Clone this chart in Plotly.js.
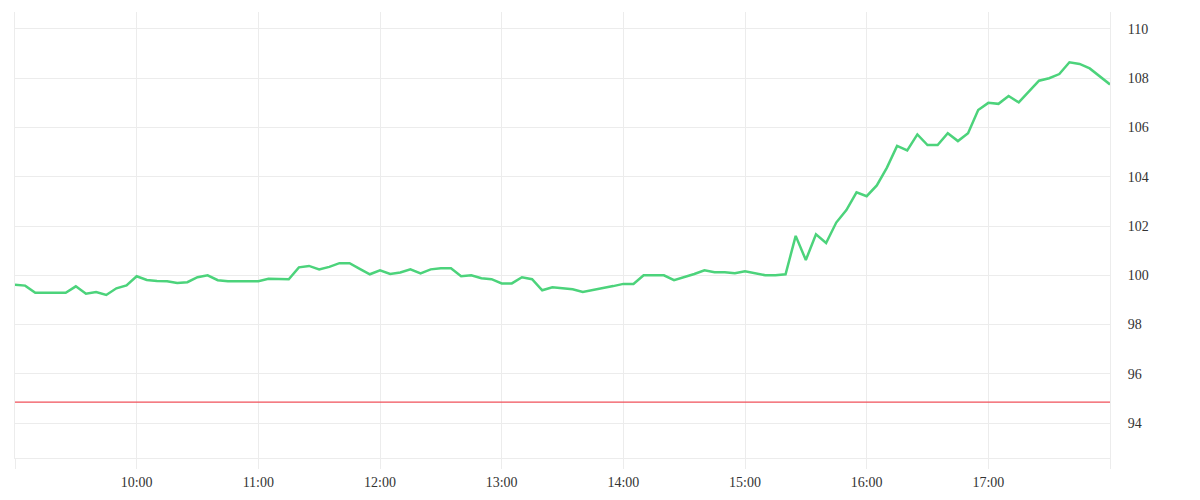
<!DOCTYPE html>
<html>
<head>
<meta charset="utf-8">
<script src="https://cdn.plot.ly/plotly-3.0.1.min.js"></script>
<style>
  body { margin: 0; background: #fff; }
  #myDiv { width: 1200px; height: 500px; }
</style>
</head>
<body>
<div id="myDiv"></div>
<script>
const day = '2024-01-02 ';

const times = [
  '09:00','09:05','09:10','09:15','09:20','09:25','09:30','09:35','09:40','09:45','09:50','09:55',
  '10:00','10:05','10:10','10:15','10:20','10:25','10:30','10:35','10:40','10:45','10:50','10:55',
  '11:00','11:05','11:10','11:15','11:20','11:25','11:30','11:35','11:40','11:45','11:50','11:55',
  '12:00','12:05','12:10','12:15','12:20','12:25','12:30','12:35','12:40','12:45','12:50','12:55',
  '13:00','13:05','13:10','13:15','13:20','13:25','13:30','13:35','13:40','13:45','13:50','13:55',
  '14:00','14:05','14:10','14:15','14:20','14:25','14:30','14:35','14:40','14:45','14:50','14:55',
  '15:00','15:05','15:10','15:15','15:20','15:25','15:30','15:35','15:40','15:45','15:50','15:55',
  '16:00','16:05','16:10','16:15','16:20','16:25','16:30','16:35','16:40','16:45','16:50','16:55',
  '17:00','17:05','17:10','17:15','17:20','17:25','17:30','17:35','17:40','17:45','17:50','17:55',
  '18:00'
];

const prices = [
  99.62, 99.58, 99.29, 99.29, 99.29, 99.29, 99.55, 99.25, 99.32, 99.20, 99.47, 99.59,
  99.96, 99.81, 99.77, 99.76, 99.69, 99.72, 99.92, 100.00, 99.80, 99.76, 99.76, 99.76,
  99.76, 99.86, 99.84, 99.84, 100.32, 100.38, 100.24, 100.34, 100.49, 100.49, 100.26, 100.04,
  100.20, 100.05, 100.11, 100.24, 100.08, 100.24, 100.28, 100.28, 99.96, 100.00, 99.88, 99.84,
  99.67, 99.67, 99.92, 99.84, 99.39, 99.51, 99.47, 99.43, 99.32, 99.39, 99.47, 99.56,
  99.65, 99.65, 100.00, 100.00, 100.00, 99.80, 99.92, 100.05, 100.20, 100.12, 100.12, 100.08,
  100.16, 100.08, 100.00, 100.00, 100.04, 101.60, 100.62, 101.66, 101.31, 102.14, 102.65, 103.37,
  103.21, 103.65, 104.37, 105.25, 105.07, 105.72, 105.29, 105.29, 105.77, 105.45, 105.77, 106.71,
  107.00, 106.96, 107.28, 107.02, 107.46, 107.90, 108.00, 108.17, 108.65, 108.58, 108.40, 108.09,
  107.75
];

const limitLevel = 94.85;

const hourTicks = ['09:00','10:00','11:00','12:00','13:00','14:00','15:00','16:00','17:00','18:00'];
const hourLabels = ['','10:00','11:00','12:00','13:00','14:00','15:00','16:00','17:00',''];

const yTicks = [94, 96, 98, 100, 102, 104, 106, 108, 110];

const gridColor = '#ececec';
const textFont = {family: 'Liberation Serif, serif', size: 14, color: '#333333'};

const xdata = times.map(t => day + t);

const priceTrace = {
  x: xdata,
  y: prices,
  type: 'scatter',
  mode: 'lines',
  line: {color: '#4cd37b', width: 2.5},
  hoverinfo: 'x+y'
};

const limitTrace = {
  x: [xdata[0], xdata[xdata.length - 1]],
  y: [limitLevel, limitLevel],
  type: 'scatter',
  mode: 'lines',
  line: {color: '#f0505a', width: 1.2},
  hoverinfo: 'skip'
};

const layout = {
  width: 1200,
  height: 500,
  margin: {l: 15, r: 90, t: 12, b: 42},
  paper_bgcolor: '#ffffff',
  plot_bgcolor: '#ffffff',
  showlegend: false,
  font: textFont,
  xaxis: {
    type: 'date',
    range: [day + '09:00', day + '18:00'],
    tickmode: 'array',
    tickvals: hourTicks.map(t => day + t),
    ticktext: hourLabels,
    showgrid: true,
    gridcolor: gridColor,
    gridwidth: 1,
    zeroline: false,
    showline: true,
    linecolor: gridColor,
    linewidth: 1,
    ticks: 'outside',
    ticklen: 10,
    tickcolor: gridColor,
    tickwidth: 1,
    ticklabelstandoff: 1,
    tickfont: textFont
  },
  yaxis: {
    side: 'right',
    range: [92.58, 110.69],
    tickmode: 'array',
    tickvals: yTicks,
    ticktext: yTicks.map(String),
    showgrid: true,
    gridcolor: gridColor,
    gridwidth: 1,
    zeroline: false,
    showline: true,
    mirror: true,
    linecolor: gridColor,
    linewidth: 1,
    ticks: 'outside',
    ticklen: 14,
    tickcolor: 'rgba(0,0,0,0)',
    tickfont: textFont
  }
};

Plotly.newPlot('myDiv', [limitTrace, priceTrace], layout, {displayModeBar: false});
</script>
</body>
</html>
